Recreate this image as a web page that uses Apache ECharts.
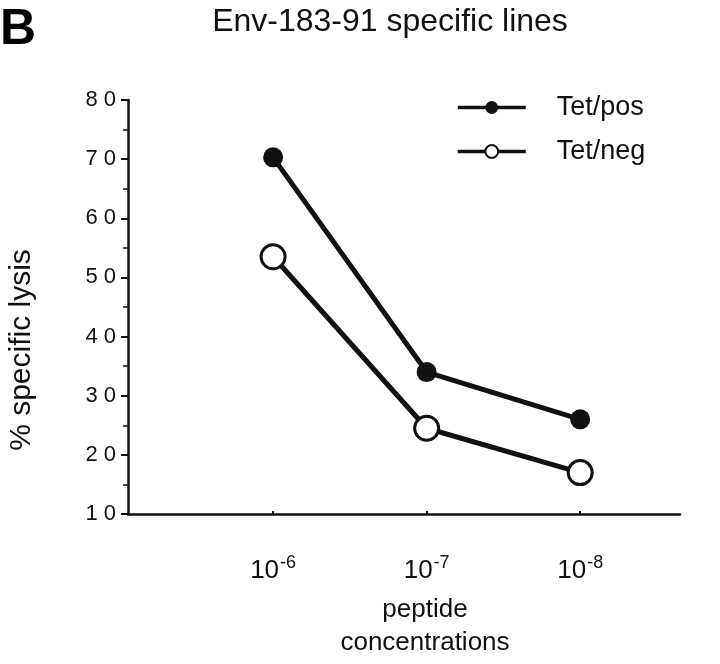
<!DOCTYPE html>
<html>
<head>
<meta charset="utf-8">
<script src="https://cdn.jsdelivr.net/npm/echarts@6/dist/echarts.min.js"></script>
<style>html,body{margin:0;padding:0;background:#fff;}#c{width:720px;height:664px;}</style>
</head>
<body>
<div id="c"></div>
<script>
// x = negative log10 of peptide concentration (10^-6, 10^-7, 10^-8)
const exponents = [6, 7, 8];
const xTickLabels = ['10-6', '10-7', '10-8'];
const tetPos = [70.3, 34, 26];
const tetNeg = [53.5, 24.5, 17];
const yTicks = [10, 20, 30, 40, 50, 60, 70, 80];

const chart = echarts.init(document.getElementById('c'), null, {renderer: 'canvas'});
const FONT = 'Liberation Sans, Arial, Helvetica, sans-serif';

const option = {
  backgroundColor: '#fff',
  animation: false,
  textStyle: {fontFamily: FONT, color: '#000'},
  graphic: [
    {type: 'text', x: 0, y: 5, style: {text: 'B', font: 'bold 50px ' + FONT, fill: '#000'}},
    {type: 'text', x: 390, y: 22,
     style: {text: 'Env-183-91 specific lines', font: '32px ' + FONT, fill: '#111', align: 'center', verticalAlign: 'middle'}},
    {type: 'text', x: 22, y: 350, rotation: Math.PI / 2,
     style: {text: '% specific lysis', font: '30px ' + FONT, fill: '#111', align: 'center', verticalAlign: 'middle'}}
  ],
  legend: {
    orient: 'vertical',
    left: 456, top: 94,
    padding: 0,
    itemWidth: 68, itemHeight: 16,
    itemGap: 17,
    lineStyle: {width: 3.5},
    textStyle: {fontFamily: FONT, fontSize: 27, color: '#111', padding: [0, 0, 0, 26]},
    data: ['Tet/pos', 'Tet/neg']
  },
  grid: {left: 128, right: 40, top: 100, bottom: 144, containLabel: false},
  xAxis: {
    type: 'value', min: 5.055, max: 8.65,
    axisLine: {lineStyle: {color: '#111', width: 2.5}},
    axisTick: {inside: true, length: 3, customValues: exponents, lineStyle: {color: '#111', width: 2}},
    splitLine: {show: false},
    axisLabel: {
      customValues: exponents,
      margin: 40,
      formatter: function (v) {
        const i = exponents.indexOf(v);
        if (i < 0) return '';
        const t = xTickLabels[i];
        return '{a|' + t.slice(0, 2) + '}{b|' + t.slice(2) + '}';
      },
      rich: {
        a: {fontFamily: FONT, fontSize: 26, color: '#111', verticalAlign: 'bottom', lineHeight: 30},
        b: {fontFamily: FONT, fontSize: 18, color: '#111', verticalAlign: 'top', lineHeight: 30, padding: [0, 0, 12, 1]}
      }
    },
    name: 'peptide\nconcentrations',
    nameLocation: 'middle',
    nameGap: 79,
    nameTextStyle: {fontFamily: FONT, fontSize: 26, color: '#111', lineHeight: 33, verticalAlign: 'top', padding: [0, 0, 0, 42]}
  },
  yAxis: {
    type: 'value', min: 10, max: 80, interval: 10,
    axisLine: {show: true, lineStyle: {color: '#111', width: 2.5}},
    axisTick: {show: true, length: 7, lineStyle: {color: '#111', width: 2}},
    minorTick: {show: true, splitNumber: 2, length: 5, lineStyle: {color: '#111', width: 1.5}},
    splitLine: {show: false},
    axisLabel: {
      margin: 12, fontFamily: FONT, fontSize: 22, color: '#111',
      customValues: yTicks,
      formatter: function (v) { return String(v).split('').join(' '); }
    }
  },
  series: [
    {
      name: 'Tet/pos', type: 'line',
      data: exponents.map((x, i) => [x, tetPos[i]]),
      symbol: 'circle', symbolSize: 20,
      lineStyle: {color: '#111', width: 5},
      itemStyle: {color: '#111', borderColor: '#111', borderWidth: 0},
      z: 3
    },
    {
      name: 'Tet/neg', type: 'line',
      data: exponents.map((x, i) => [x, tetNeg[i]]),
      symbol: 'circle', symbolSize: 24,
      lineStyle: {color: '#111', width: 5},
      itemStyle: {color: '#fff', borderColor: '#111', borderWidth: 3},
      z: 3
    }
  ]
};
chart.setOption(option);
</script>
</body>
</html>
